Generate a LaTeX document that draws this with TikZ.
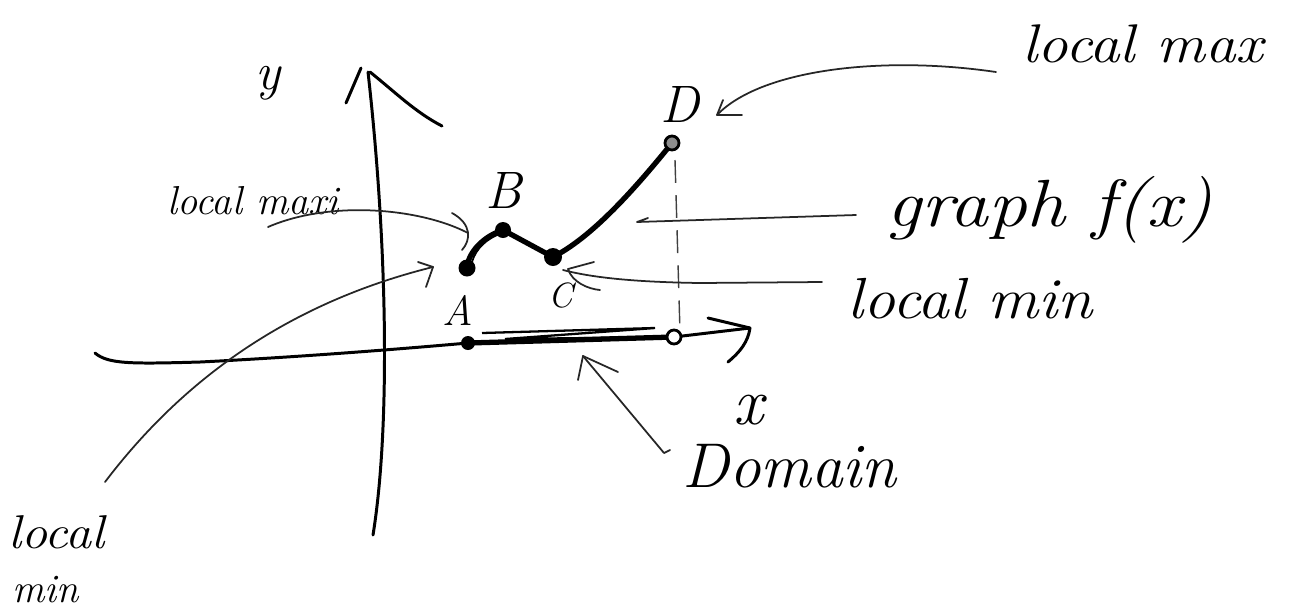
\documentclass[tikz,border=0pt]{standalone}
\usepackage{fontspec}
\usepackage{graphicx}
\begin{document}
\begin{tikzpicture}[x=0.02cm,y=-0.02cm,
  axis/.style={line width=1.7pt, black, line cap=round, line join=round},
  note/.style={line width=1.0pt, black!85, line cap=round, line join=round},
  thick curve/.style={line width=3pt, black, line cap=round, line join=round},
  dot/.style={circle, fill=black, inner sep=0pt, minimum size=#1},
  dot/.default=0.3cm,
  ring/.style={circle, draw=black, line width=1.6pt, fill=#1, inner sep=0pt, minimum size=0.28cm},
  ring/.default=white,
  hand/.style={inner sep=0pt, font=\itshape},
]
\useasboundingbox[fill=white] (0,0) rectangle (1307,613);

% ---------- positions ----------
\coordinate (pA) at (467,268);
\coordinate (pB) at (503,230);
\coordinate (pC) at (553,257);
\coordinate (pD) at (672,143);
\coordinate (pP) at (468,343);
\coordinate (pQ) at (674,337);

% ---------- axes ----------
\coordinate (xl) at (95,353);
\coordinate (xr) at (750,328);
\coordinate (xh1) at (708,318);
\coordinate (xh2) at (728,362);
\draw[axis] (xl) .. controls (108,364) and (130,364) .. (200,362)
  .. controls (300,357) and (400,349) .. (pP) -- (pQ) -- (xr);
\draw[axis] (xh1) -- (xr) .. controls (748,342) and (740,352) .. (xh2);

\coordinate (yb) at (373,535);
\coordinate (yt) at (368,72);
\coordinate (yh1) at (346,103);
\coordinate (yh2) at (442,126);
\draw[axis] (yb) .. controls (390,430) and (388,250) .. (yt);
\draw[axis] (yh1) -- (361,68);
\draw[axis] (370,72) .. controls (395,92) and (415,112) .. (yh2);

% ---------- dashed drop from D ----------
\coordinate (dd1) at (675,160);
\coordinate (dd2) at (680,332);
\draw[line width=0.8pt, black!75, dash pattern=on 13pt off 7pt] (dd1) -- (dd2);

% ---------- graph of f ----------
\draw[thick curve] (pA) .. controls (468,252) and (484,236) .. (pB) -- (pC)
  .. controls (590,238) and (630,195) .. (pD);
\draw[line width=1pt] (472,262) .. controls (476,248) and (488,238) .. (500,234);

% ---------- domain ----------
\draw[thick curve] (pP) -- (pQ);
\draw[line width=1.3pt] (482,333) -- (655,328) -- (505,339) -- (pQ);

% ---------- points ----------
\node[dot=0.34cm] (A) at (pA) {};
\node[dot=0.32cm] (B) at (pB) {};
\node[dot=0.36cm] (C) at (pC) {};
\node[ring=black!45] (D) at (pD) {};
\node[dot=0.28cm] (P) at (pP) {};
\node[ring] (Q) at (pQ) {};

% ---------- point labels ----------
\node[hand, font=\fontsize{24}{28}\selectfont\itshape] (lA) at (458,310) {A};
\node[hand, font=\fontsize{30}{34}\selectfont\itshape] (lB) at (504,190) {B};
\node[hand, font=\fontsize{20}{24}\selectfont\itshape] (lC) at (561,295) {C};
\node[hand, font=\fontsize{30}{34}\selectfont\itshape] (lD) at (680,104) {D};
\node[hand, font=\fontsize{30}{34}\selectfont\itshape] (ly) at (268,83) {y};
\node[hand, font=\fontsize{38}{42}\selectfont\itshape] (lx) at (749,410) {x};

% ---------- annotation texts ----------
\node[hand, anchor=base west, font=\fontsize{31}{36}\selectfont\itshape] (tmax) at (1022,62) {\scalebox{1.12}[1]{local max}};
\node[hand, anchor=base west, font=\fontsize{38}{42}\selectfont\itshape] (tgraph) at (886,226) {\scalebox{1.16}[1]{graph f(x)}};
\node[hand, anchor=base west, font=\fontsize{33}{38}\selectfont\itshape] (tminr) at (847,318) {\scalebox{1.1}[1]{local min}};
\node[hand, anchor=base west, font=\fontsize{23}{28}\selectfont\itshape] (tmaxi) at (167,214) {local maxi};
\node[hand, anchor=base west, font=\fontsize{27}{30}\selectfont\itshape] (tminl1) at (8,548) {\scalebox{1.1}[1]{local}};
\node[hand, anchor=base west, font=\fontsize{23}{28}\selectfont\itshape] (tminl2) at (12,602) {min};
\node[hand, anchor=base west, font=\fontsize{36}{40}\selectfont\itshape] (tdom) at (682,487) {Domain};

% ---------- annotation connectors ----------
% local max -> D
\coordinate (amax0) at (996,72);
\coordinate (amax1) at (717,115);
\draw[note] (amax0) .. controls (880,55) and (760,70) .. (amax1);
\draw[note] (723,100) -- (amax1) -- (742,115);

% graph f(x)
\coordinate (ag0) at (856,215);
\coordinate (ag1) at (637,222);
\draw[note] (ag0) -- (ag1) -- (648,218);

% local min (right) -> C
\coordinate (amr0) at (822,282);
\coordinate (amr1) at (563,270);
\draw[note] (amr0) -- (700,283) .. controls (630,282) and (590,277) .. (amr1);
\draw[note] (594,262) -- (568,269) .. controls (572,282) and (588,289) .. (600,290);

% local maxi -> A/B
\coordinate (ami0) at (268,227);
\coordinate (ami1) at (468,233);
\draw[note] (ami0) .. controls (330,200) and (420,208) .. (ami1);
\draw[note] (452,213) .. controls (472,224) and (471,240) .. (462,250);

% local min (left) -> A
\coordinate (aml0) at (105,482);
\coordinate (aml1) at (433,267);
\draw[note] (aml0) .. controls (190,370) and (300,300) .. (aml1);
\draw[note] (418,262) -- (aml1) -- (426,287);

% Domain -> segment
\coordinate (ad0) at (664,453);
\coordinate (ad1) at (583,356);
\draw[note] (670,450) -- (ad0) -- (ad1);
\draw[note] (578,380) -- (ad1) -- (618,372);

\end{tikzpicture}
\end{document}
